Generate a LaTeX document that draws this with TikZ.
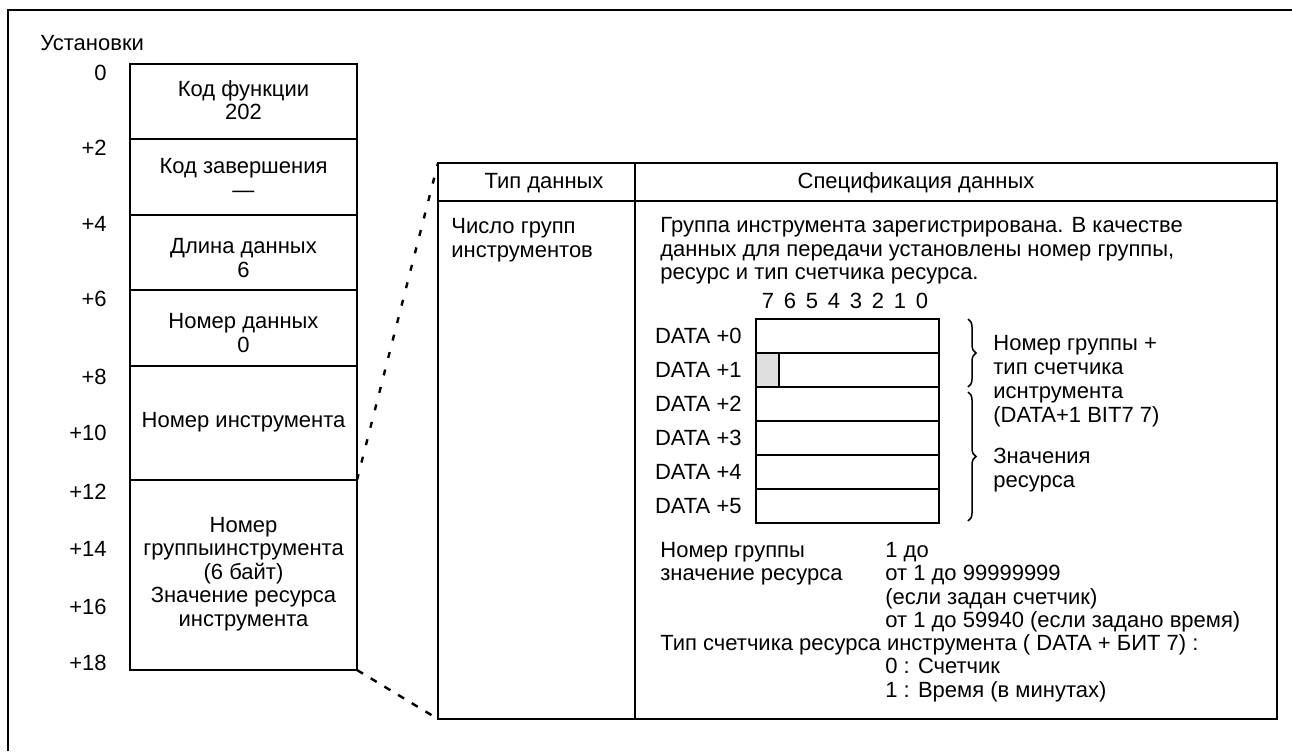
\documentclass[tikz,border=0pt]{standalone}
\usepackage{fontspec}
\setmainfont{Liberation Sans}
\usetikzlibrary{decorations.pathreplacing}
\begin{document}
\begin{tikzpicture}[x=0.5pt,y=-0.5pt,
  every node/.style={inner sep=0pt, font=\fontsize{11}{11.75}\selectfont},
  ctext/.style={align=center},
  ltext/.style={align=left, anchor=west},
  thinline/.style={line width=0.75pt},
  frameline/.style={line width=1.4pt},
  tabline/.style={line width=1.2pt},
  dotconn/.style={line width=1.2pt, dash pattern=on 3pt off 6pt},
  dashconn/.style={line width=1.2pt, dash pattern=on 3.5pt off 4.5pt},
  bracedeco/.style={thinline, decorate, decoration={brace, amplitude=4pt}}
]
\useasboundingbox (0,0) rectangle (1292,751);
% outer frame
\draw[frameline] (8,751) -- (8,10) -- (1292,10);

% left column
\node[anchor=west] (ust) at (40,43) {Установки};
\draw[thinline] (130,64) rectangle (357,670);
\foreach \y in {139,215,290,366,480} \draw[thinline] (130,\y) -- (357,\y);
\foreach \t/\y [count=\k] in {0/73,+2/148,+4/224,+6/299,+8/377,+10/433,+12/492,+14/549,+16/607,+18/663}
  \node[anchor=east] (off\k) at (107,\y) {\t};

\node[ctext] (b1) at (243.5,100) {Код функции\\202};
\node[ctext] (b2) at (243.5,178) {Код завершения\\—};
\node[ctext] (b3) at (243.5,258) {Длина данных\\6};
\node[ctext] (b4) at (243.5,333) {Номер данных\\0};
\node[ctext] (b5) at (243.5,422) {Номер инструмента};
\node[ctext] (b6) at (243.5,574) {Номер\\группыинструмента\\(6 байт)\\Значение ресурса\\инструмента};

% connectors
\coordinate (b5se) at (357,480);
\coordinate (b6se) at (357,670);
\coordinate (tnw) at (438,163);
\coordinate (tsw) at (438,719);
\draw[dotconn] (b5se) -- (tnw);
\draw[dashconn] (b6se) -- (tsw);

% table
\draw[tabline] (438,163) rectangle (1277,719);
\draw[tabline] (438,201) -- (1277,201);
\draw[thinline] (635,163) -- (635,719);
\node (h1) at (544,183) {Тип данных};
\node (h2) at (916,183) {Спецификация данных};
\node[ltext] (c1) at (451,240) {Число групп\\инструментов};
\node[ltext] (p1) at (660,251) {Группа инструмента зарегистрирована. В качестве\\данных для передачи установлены номер группы,\\ресурс и тип счетчика ресурса.};

% bit numbers
\foreach \b [count=\i from 0] in {7,6,5,4,3,2,1,0}
  \node (bit\b) at ({768+22*\i},301) {\b};

% data grid
\fill[gray!25] (756,353) rectangle (779,387);
\draw[thinline] (756,319) rectangle (939,523);
\foreach \y in {353,387,421,455,489} \draw[thinline] (756,\y) -- (939,\y);
\draw[thinline] (779,353) -- (779,387);
\foreach \i in {0,...,5}
  \node[anchor=east] (d\i) at (742,{336+34*\i}) {DATA +\i};

% braces
\coordinate (br1a) at (968,319);
\coordinate (br1b) at (968,387);
\coordinate (br2a) at (968,392);
\coordinate (br2b) at (968,521);
\draw[bracedeco] (br1a) -- (br1b);
\draw[bracedeco] (br2a) -- (br2b);
\node[ltext, font=\fontsize{11}{12}\selectfont] (bt1) at (993,381) {Номер группы +\\тип счетчика\\иснтрумента\\(DATA+1 BIT7 7)};
\node[ltext, font=\fontsize{11}{12}\selectfont] (bt2) at (993,470) {Значения\\ресурса};

% bottom text
\node[ltext] (n1) at (660,563.5) {Номер группы\\значение ресурса};
\node[ltext] (n2) at (885,587) {1 до\\от 1 до 99999999\\(если задан счетчик)\\от 1 до 59940 (если задано время)};
\node[ltext] (n3) at (660,645) {Тип счетчика ресурса инструмента ( DATA + БИТ 7) :};
\node[ltext] (n4) at (885,680) {0 : Счетчик\\1 : Время (в минутах)};
\end{tikzpicture}
\end{document}
